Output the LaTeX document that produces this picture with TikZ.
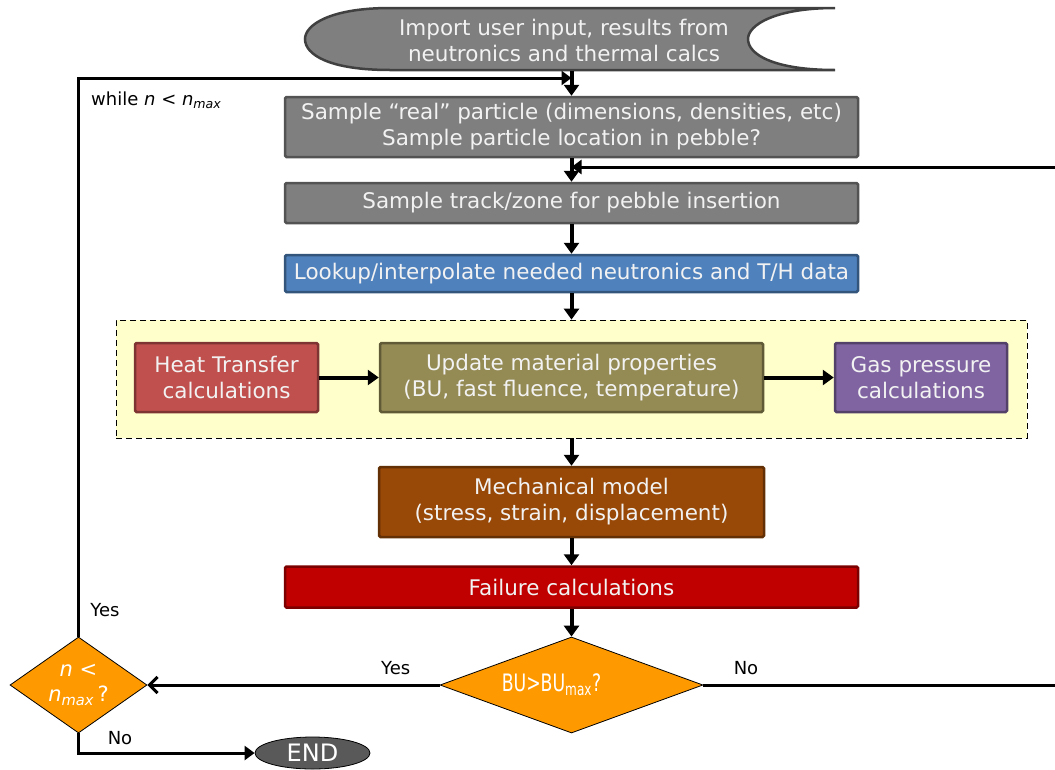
\documentclass[tikz,border=0pt]{standalone}
\usepackage{fontspec}
\setmainfont{DejaVu Sans}
\newfontfamily\narrowfont[FakeStretch=0.72]{DejaVu Sans}
\usetikzlibrary{positioning,arrows.meta,shapes.geometric,calc}
\definecolor{boxGray}{HTML}{7F7F7F}
\definecolor{luBlue}{HTML}{4F81BD}
\definecolor{heatRed}{HTML}{C0504D}
\definecolor{matOlive}{HTML}{948A54}
\definecolor{gasPurple}{HTML}{8064A2}
\definecolor{mechBrown}{HTML}{984807}
\definecolor{failRed}{HTML}{C00000}
\definecolor{askOrange}{HTML}{FF9900}
\definecolor{stageYellow}{HTML}{FFFFCC}
\definecolor{endGray}{HTML}{595959}
\newcommand{\boxfont}{\fontsize{21.5}{26}\selectfont}
\newcommand{\lblfont}{\fontsize{18}{22}\selectfont}
\tikzset{
  proc/.style={draw=#1!65!black, fill=#1, line width=2.5pt, rounded corners=1.5pt, align=center, text=white!95!black, font=\boxfont, inner sep=0pt},
  decide/.style={diamond, draw=black, fill=askOrange, line width=0.8pt, inner sep=0pt, align=center, text=white, font=\boxfont},
  lbl/.style={font=\lblfont, text=black, inner sep=0pt},
}
\begin{document}
\begin{tikzpicture}[x=1pt, y=-1pt,
  arr/.style={-{Triangle[length=11pt,width=15pt]}, line width=4pt},
  loop/.style={-{Triangle[length=10pt,width=14pt]}, line width=3pt},
  barb/.style={-{Straight Barb[length=8pt,width=16pt,line width=3pt]}, line width=3pt}]
\useasboundingbox (0,0) rectangle (1055,769);
% stored data shape for the input
\draw[draw=black!75, fill=boxGray, line width=2.5pt] (835,8) -- (390,8) .. controls (330,8) and (305,25) .. (305,39) .. controls (305,55) and (330,70) .. (390,70) -- (835,70) .. controls (775,70) and (748,55) .. (748,39) .. controls (748,25) and (775,8) .. (835,8) -- cycle;
\node[align=center, text=white!95!black, font=\boxfont, minimum height=62pt, inner sep=0pt] (input) at (564,40) {Import user input, results from\\neutronics and thermal calcs};
% main column
\node[proc=boxGray, minimum width=573pt, minimum height=60pt] (particle) at (571.5,127) {Sample ``real'' particle (dimensions, densities, etc)\\Sample particle location in pebble?};
\node[proc=boxGray, minimum width=573pt, minimum height=40pt] (track) at (571.5,203) {Sample track/zone for pebble insertion};
\node[proc=luBlue, minimum width=573pt, minimum height=37pt] (lookup) at (571.5,273.5) {Lookup/interpolate needed neutronics and T/H data};
\node[draw=black, fill=stageYellow, line width=0.8pt, dash pattern=on 6pt off 4pt, minimum width=911pt, minimum height=118pt] (stage) at (571.5,379) {};
\node[proc=heatRed, minimum width=183pt, minimum height=69pt] (heat) at (226.5,377.5) {Heat Transfer\\calculations};
\node[proc=matOlive, minimum width=383pt, minimum height=69pt] (matprop) at (571.5,377.5) {Update material properties\\(BU, fast fluence, temperature)};
\node[proc=gasPurple, minimum width=172pt, minimum height=69pt] (gas) at (921,377.5) {Gas pressure\\calculations};
\node[proc=mechBrown, minimum width=385pt, minimum height=70pt] (mech) at (571.5,502) {Mechanical model\\(stress, strain, displacement)};
\node[proc=failRed, minimum width=573pt, minimum height=41pt] (fail) at (571.5,587) {Failure calculations};
\node[decide, aspect=2.74, minimum width=263pt, minimum height=96pt, font=\narrowfont\fontsize{24}{26}\selectfont] (bu) at (571.5,685) {BU>BU\textsubscript{max}?\hspace*{40pt}};
\node[decide, aspect=1.43, minimum width=137pt, minimum height=96pt, inner sep=-4pt, font=\fontsize{21}{25}\selectfont] (nless) at (78.5,685) {\textit{n} <\\\textit{n\textsubscript{max}}\,?};
\node[ellipse, draw=black, fill=endGray, line width=0.8pt, minimum width=115pt, minimum height=32pt, inner sep=0pt, text=white, font=\fontsize{24}{26}\selectfont] (finish) at (312.5,753) {END};
% junctions of the loops
\coordinate (join) at (particle.north |- 0,78);
\coordinate (merge) at (particle.south |- 0,167);
% connectors
\draw[arr] (input.south -| particle.north) -- (particle.north);
\draw[arr] (particle) -- (track);
\draw[arr] (track) -- (lookup);
\draw[arr] (lookup) -- (stage);
\draw[arr] (heat) -- (matprop);
\draw[arr] (matprop) -- (gas);
\draw[arr] (stage) -- (mech);
\draw[arr] (mech) -- (fail);
\draw[arr] (fail) -- (bu);
\draw[barb] (bu) -- (nless) node[lbl, pos=0.15, above=9pt] {Yes};
\draw[loop] (bu.east) -- ++(360,0) |- (merge);
\draw[loop] (nless.north) |- (join);
\draw[loop] (nless.south) |- (finish.west);
% labels
\node[lbl] at (746,668) {No};
\node[lbl] at (105,610) {Yes};
\node[lbl] at (120,738) {No};
\node[lbl, anchor=west] (whilelbl) at (91,100) {while \textit{n} < \textit{n\textsubscript{max}}};
\end{tikzpicture}
\end{document}
